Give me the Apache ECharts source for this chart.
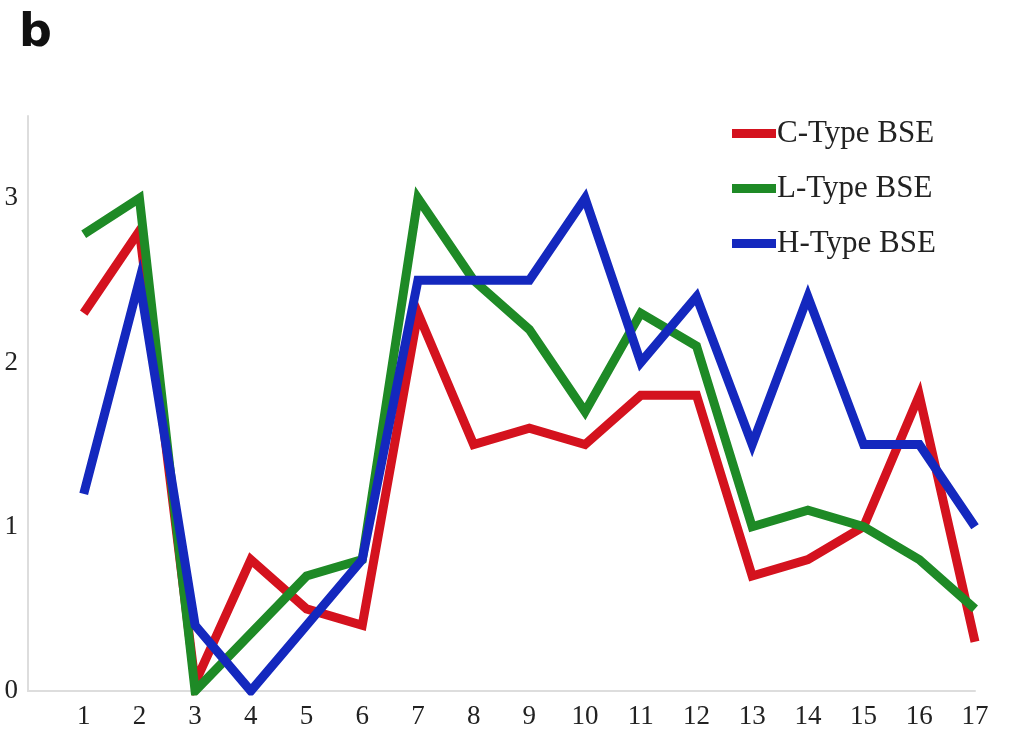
<!DOCTYPE html>
<html><head><meta charset="utf-8">
<script src="https://cdn.jsdelivr.net/npm/echarts@6/dist/echarts.min.js"></script>
<style>html,body{margin:0;padding:0;background:#fff;}#c{width:1011px;height:731px;}</style>
</head><body><div id="c"></div>
<script>
const categories = [1,2,3,4,5,6,7,8,9,10,11,12,13,14,15,16,17];
const seriesNames = ['C-Type BSE','L-Type BSE','H-Type BSE'];
const cType = [2.3,2.8,0.05,0.8,0.5,0.4,2.3,1.5,1.6,1.5,1.8,1.8,0.7,0.8,1.0,1.8,0.3];
const lType = [2.78,3.0,0.0,0.35,0.7,0.8,3.0,2.5,2.2,1.7,2.3,2.1,1.0,1.1,1.0,0.8,0.5];
const hType = [1.2,2.5,0.4,0.0,0.4,0.8,2.5,2.5,2.5,3.0,2.0,2.4,1.5,2.4,1.5,1.5,1.0];
const colors = ['#d4121e','#1e8a26','#1428be'];

const chart = echarts.init(document.getElementById('c'));
const mk = (arr) => arr.map((v,i)=>[categories[i], v]);
chart.setOption({
  animation:false,
  title:{text:'b', left:14, top:6, textStyle:{fontFamily:'DejaVu Sans', fontWeight:'bold', fontSize:46, color:'#111'}},
  legend:{
    orient:'vertical', left:727, top:113, itemGap:24, itemWidth:44, itemHeight:9,
    icon:'rect',
    textStyle:{fontFamily:'Liberation Serif', fontSize:31, color:'#222', padding:[0,0,0,-4]},
    data:seriesNames
  },
  grid:{left:28, right:36, top:116, bottom:40, containLabel:false},
  xAxis:{type:'value', min:0, max:17, interval:1,
    axisLine:{show:true, lineStyle:{color:'#dddddd', width:2}},
    axisTick:{show:false}, splitLine:{show:false},
    axisLabel:{fontFamily:'Liberation Serif', fontSize:27, color:'#222', margin:12,
      formatter:(v)=> v===0 ? '' : String(v)}
  },
  yAxis:{type:'value', min:0, max:3.5, interval:0.5,
    axisLine:{show:true, lineStyle:{color:'#dddddd', width:2}},
    axisTick:{show:false}, splitLine:{show:false},
    axisLabel:{fontFamily:'Liberation Serif', fontSize:27, color:'#222', margin:10,
      formatter:(v)=> Number.isInteger(v) && v<=3 ? String(v) : ''}
  },
  series:[
    {name:seriesNames[0], type:'line', data:mk(cType), symbol:'none', lineStyle:{width:9, color:colors[0], join:'miter'}, itemStyle:{color:colors[0]}},
    {name:seriesNames[1], type:'line', data:mk(lType), symbol:'none', lineStyle:{width:9, color:colors[1], join:'miter'}, itemStyle:{color:colors[1]}},
    {name:seriesNames[2], type:'line', data:mk(hType), symbol:'none', lineStyle:{width:9, color:colors[2], join:'miter'}, itemStyle:{color:colors[2]}}
  ]
});
</script></body></html>
